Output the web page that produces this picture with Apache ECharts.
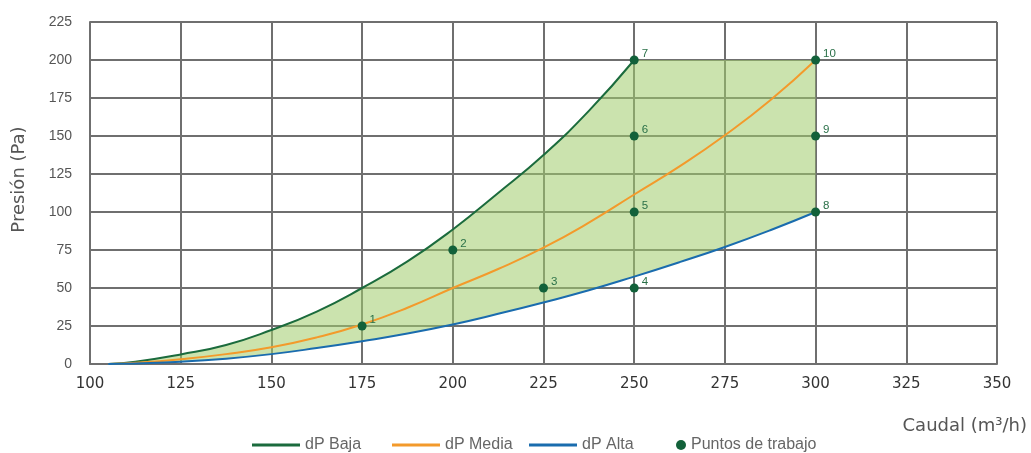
<!DOCTYPE html>
<html>
<head>
<meta charset="utf-8">
<script src="https://cdn.jsdelivr.net/npm/echarts@6/dist/echarts.min.js"></script>
<style>html,body{margin:0;padding:0;background:#fff}#c{width:1031px;height:453px}</style>
</head>
<body>
<div id="c"></div>
<script>
// x (Caudal m3/h) sample positions and read values (Pa)
var xBaja  = [105, 112.5, 125, 137.5, 150, 162.5, 175, 187.5, 200, 212.5, 225, 237.5, 250];
var yBaja  = [0, 1.5, 6.3, 12.5, 22.4, 34.5, 50, 67.5, 88.5, 112.5, 137.5, 166.5, 200];
var xCurve = [105, 112.5, 125, 137.5, 150, 162.5, 175, 187.5, 200, 212.5, 225, 237.5, 250, 262.5, 275, 287.5, 300];
var yMedia = [0, 0.8, 3.2, 6.5, 11, 17.5, 26, 37, 50, 62.5, 76.5, 93, 111.5, 130, 150.5, 173.5, 200];
var yAlta  = [0, 0.4, 1.5, 3.5, 6.5, 10.5, 15, 20, 26, 33, 40.5, 48.5, 57.5, 67, 77, 88, 100];
// working points
var ptX = [175, 200, 225, 250, 250, 250, 250, 300, 300, 300];
var ptY = [25, 75, 50, 50, 100, 150, 200, 100, 150, 200];
var ptLabel = ['1','2','3','4','5','6','7','8','9','10'];
// axis ticks
var xTicks = [100, 125, 150, 175, 200, 225, 250, 275, 300, 325, 350];
var yTicks = [0, 25, 50, 75, 100, 125, 150, 175, 200, 225];
var seriesNames = ['dP Baja', 'dP Media', 'dP Alta', 'Puntos de trabajo'];

function pairs(xs, ys){ return xs.map(function(x,i){ return [x, ys[i]]; }); }
var baja = pairs(xBaja, yBaja);
var media = pairs(xCurve, yMedia);
var alta = pairs(xCurve, yAlta);
// working zone polygon: Baja up to 7, top edge to 10, down to 8, back along Alta
var zone = baja.concat([[300, 200]]).concat(alta.slice().reverse());
var points = ptX.map(function(x,i){ return {value:[x, ptY[i]], name: ptLabel[i]}; });

var chart = echarts.init(document.getElementById('c'));
var legendText = {fontFamily:'Liberation Sans', fontSize:16, color:'#666'};
var legendLeft = [252, 392, 529, 676];
var legends = seriesNames.map(function(n, i){
  var isPt = i === 3;
  return {
    data:[{name:n, icon: isPt ? 'circle' : 'rect'}],
    left:legendLeft[i], top:437, padding:0,
    itemWidth: isPt ? 10 : 48, itemHeight: isPt ? 10 : 3,
    textStyle:legendText
  };
});
chart.setOption({
  animation:false,
  grid:{left:90, right:34, top:22, bottom:89},
  legend:legends,
  xAxis:{
    type:'value', min:xTicks[0], max:xTicks[xTicks.length-1], interval:25,
    name:'Caudal (m³/h)', nameLocation:'end', nameGap:30,
    nameTextStyle:{fontFamily:'DejaVu Sans', fontSize:18, color:'#555', align:'right', verticalAlign:'top', padding:[53,0,0,0]},
    axisLine:{show:true, lineStyle:{color:'#6f6f6f', width:2}},
    axisTick:{show:false},
    splitLine:{show:true, lineStyle:{color:'#6f6f6f', width:2}},
    axisLabel:{fontFamily:'DejaVu Sans', fontSize:15, color:'#333', margin:13}
  },
  yAxis:{
    type:'value', min:yTicks[0], max:yTicks[yTicks.length-1], interval:25,
    name:'Presión (Pa)', nameLocation:'middle', nameGap:62,
    nameTextStyle:{fontFamily:'DejaVu Sans', fontSize:18, color:'#555', padding:[0,0,0,27]},
    axisLine:{show:true, lineStyle:{color:'#6f6f6f', width:2}},
    axisTick:{show:false},
    splitLine:{show:true, lineStyle:{color:'#6f6f6f', width:2}},
    axisLabel:{fontFamily:'Liberation Sans', fontSize:14, color:'#555', margin:18}
  },
  series:[
    {
      type:'custom', name:'zona', silent:true, z:1,
      data:zone,
      renderItem:function(params, api){
        if (params.dataIndex !== 0) return null;
        var pts = zone.map(function(p){ return api.coord(p); });
        return {type:'polygon', shape:{points:pts}, style:{fill:'rgba(160,204,108,0.55)'}};
      }
    },
    {type:'line', name:seriesNames[0], data:baja, smooth:true, symbol:'none', showSymbol:false, z:3,
     lineStyle:{color:'#1b6b3d', width:2}, itemStyle:{color:'#1b6b3d'}},
    {type:'line', name:seriesNames[1], data:media, smooth:true, symbol:'none', showSymbol:false, z:3,
     lineStyle:{color:'#f39a2b', width:2}, itemStyle:{color:'#f39a2b'}},
    {type:'line', name:seriesNames[2], data:alta, smooth:true, symbol:'none', showSymbol:false, z:3,
     lineStyle:{color:'#1a6cae', width:2}, itemStyle:{color:'#1a6cae'}},
    {type:'scatter', name:seriesNames[3], data:points, symbolSize:9, z:5,
     itemStyle:{color:'#12613a', opacity:1},
     label:{show:true, position:'right', distance:3, offset:[0,-6], formatter:'{b}',
            fontFamily:'Liberation Sans', fontSize:11.5, color:'#2a7048'}}
  ]
});
</script>
</body>
</html>
